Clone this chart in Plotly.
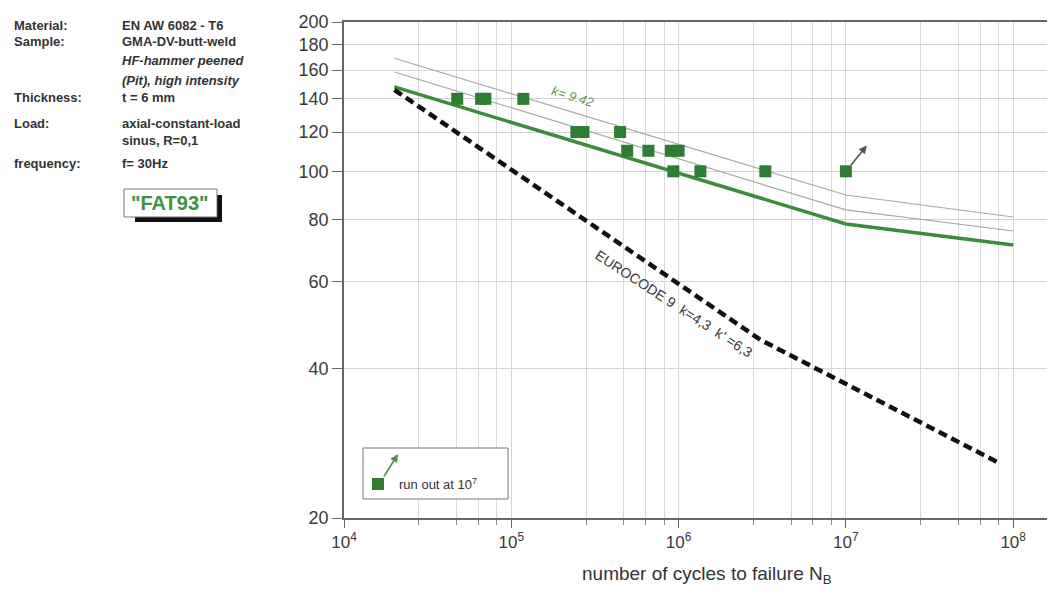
import numpy as np
import plotly.graph_objects as go

# ---------------- data ----------------
test_N = [4.75e4, 6.6e4, 7.0e4, 1.18e5, 2.45e5, 2.7e5, 4.47e5, 4.93e5, 6.6e5, 9.0e5, 1.0e6, 9.3e5, 1.35e6, 3.3e6]
test_S = [140, 140, 140, 140, 120, 120, 120, 110, 110, 110, 110, 100, 100, 100]
runout_N = [1.0e7]
runout_S = [100]

curve_N = [2.0e4, 1.0e7, 1.0e8]
fat_S = [148, 78.3, 71]          # thick green design curve (k = 9.42)
band_upper_S = [169, 89.6, 80.9]  # thin scatter band lines
band_mid_S = [158.6, 83.6, 75.8]

ec9_N = [2.0e4, 3.1e6, 8.1e7]
ec9_S = [146, 45.7, 25.9]

y_ticks = [20, 40, 60, 80, 100, 120, 140, 160, 180, 200]
x_ticks = [1e4, 1e5, 1e6, 1e7, 1e8]
x_ticklabels = ["10<sup>4</sup>", "10<sup>5</sup>", "10<sup>6</sup>", "10<sup>7</sup>", "10<sup>8</sup>"]
minor_mult = [2.8, 4.7, 6.35, 8.2]

info_labels = ["Material:", "Sample:", "", "", "Thickness:", "Load:", "", "frequency:"]
info_values = ["EN AW 6082 - T6", "GMA-DV-butt-weld", "<i>HF-hammer peened</i>",
               "<i>(Pit), high intensity</i>", "t = 6 mm", "axial-constant-load",
               "sinus, R=0,1", "f= 30Hz"]

# ---------------- layout geometry ----------------
OFF = 8  # page body margin of the browser
W_FIG, H_FIG = 1055 - OFF, 592 - OFF
L, R, T, B = 344 - OFF, 0, 22 - OFF, 74
PW = W_FIG - L - R
PH = H_FIG - T - B


def px(xp):
    return (xp - OFF - L) / PW


def py(yp):
    return (H_FIG - B - (yp - OFF)) / PH


GREEN = "#2f7d32"
LINE_GREEN = "#3c8c3c"
THIN = "#a3aba3"
TXT = "#333333"
FONT = "Liberation Sans, Arial, sans-serif"

fig = go.Figure()

fig.add_trace(go.Scatter(x=curve_N, y=band_upper_S, mode="lines",
                         line=dict(color=THIN, width=1.2), hoverinfo="skip"))
fig.add_trace(go.Scatter(x=curve_N, y=band_mid_S, mode="lines",
                         line=dict(color=THIN, width=1.2), hoverinfo="skip"))
fig.add_trace(go.Scatter(x=curve_N, y=fat_S, mode="lines",
                         line=dict(color=LINE_GREEN, width=3.5), hoverinfo="skip"))
fig.add_trace(go.Scatter(x=ec9_N, y=ec9_S, mode="lines",
                         line=dict(color="#111111", width=4.5, dash="9px,5px"), hoverinfo="skip"))
fig.add_trace(go.Scatter(x=test_N, y=test_S, mode="markers",
                         marker=dict(symbol="square", size=12, color=GREEN)))
fig.add_trace(go.Scatter(x=runout_N, y=runout_S, mode="markers",
                         marker=dict(symbol="square", size=12, color=GREEN)))

annotations = []
# run-out arrow from the run-out point
for n, s in zip(runout_N, runout_S):
    annotations.append(dict(x=np.log10(n) + 0.125, y=np.log10(s) + 0.052, xref="x", yref="y",
                            ax=np.log10(n), ay=np.log10(s), axref="x", ayref="y",
                            showarrow=True, arrowhead=2, arrowsize=1, arrowwidth=1.6,
                            arrowcolor="#4d5a4d", startstandoff=6, text=""))

# curve labels
annotations.append(dict(x=5.367, y=2.150, xref="x", yref="y", text="<i>k= 9.42</i>",
                        showarrow=False, textangle=17,
                        font=dict(family=FONT, size=13, color="#5f9a5f")))
annotations.append(dict(x=5.975, y=1.733, xref="x", yref="y",
                        text="EUROCODE 9  k=4,3  k' =6,3",
                        showarrow=False, textangle=33,
                        font=dict(family=FONT, size=14, color="#3a3a3a")))

# x-axis title
annotations.append(dict(x=px(707), y=py(575), xref="paper", yref="paper",
                        text="number of cycles to failure N<sub>B</sub>", showarrow=False,
                        xanchor="center", yanchor="middle",
                        font=dict(family=FONT, size=19, color=TXT)))

# info block on the left
rows_y = [26, 41, 61, 80, 98, 123, 141, 163]
for lab, val, yy in zip(info_labels, info_values, rows_y):
    if lab:
        annotations.append(dict(x=px(12), y=py(yy), xref="paper", yref="paper", text="<b>" + lab + "</b>",
                                showarrow=False, xanchor="left", yanchor="middle",
                                font=dict(family=FONT, size=13, color=TXT)))
    annotations.append(dict(x=px(120), y=py(yy), xref="paper", yref="paper", text="<b>" + val + "</b>",
                            showarrow=False, xanchor="left", yanchor="middle",
                            font=dict(family=FONT, size=13, color=TXT)))

# FAT93 label
annotations.append(dict(x=px(170), y=py(203), xref="paper", yref="paper", text="<b>\"FAT93\"</b>",
                        showarrow=False, xanchor="center", yanchor="middle",
                        font=dict(family=FONT, size=20, color="#3f933f")))

# legend box content
annotations.append(dict(x=px(398), y=py(454), xref="paper", yref="paper",
                        ax=-15, ay=24, showarrow=True, arrowhead=2, arrowsize=1,
                        arrowwidth=1.6, arrowcolor="#4f8f4f", text=""))
annotations.append(dict(x=px(397), y=py(484), xref="paper", yref="paper",
                        text="run out at 10<sup>7</sup>", showarrow=False,
                        xanchor="left", yanchor="middle",
                        font=dict(family=FONT, size=13, color=TXT)))

shapes = [
    # FAT93 shadow and box
    dict(type="rect", xref="paper", yref="paper", x0=px(135), x1=px(222), y0=py(222), y1=py(195),
         fillcolor="#111111", line=dict(width=0), layer="above"),
    dict(type="rect", xref="paper", yref="paper", x0=px(124), x1=px(217), y0=py(217), y1=py(189),
         fillcolor="white", line=dict(color="#777777", width=1), layer="above"),
    # legend box
    dict(type="rect", xref="paper", yref="paper", x0=px(363), x1=px(508), y0=py(499), y1=py(448),
         fillcolor="white", line=dict(color="#777777", width=1), layer="above"),
    dict(type="rect", xref="paper", yref="paper", x0=px(372), x1=px(384), y0=py(490), y1=py(478),
         fillcolor=GREEN, line=dict(width=0), layer="above"),
]

minor_vals = [m * 10 ** d for d in range(4, 9) for m in minor_mult]

fig.update_layout(
    width=W_FIG, height=H_FIG,
    margin=dict(l=L, r=R, t=T, b=B, autoexpand=False),
    paper_bgcolor="white", plot_bgcolor="white",
    showlegend=False,
    annotations=annotations,
    shapes=shapes,
    font=dict(family=FONT, color=TXT),
    xaxis=dict(type="log", range=[4, 8.25], tickmode="array", tickvals=x_ticks, ticktext=x_ticklabels,
               automargin=False,
               ticks="outside", ticklen=8, tickcolor="#666666", tickwidth=1.2,
               showgrid=True, gridcolor="#d4d4d4", gridwidth=1,
               showline=True, linecolor="#666666", linewidth=1.5, mirror=True,
               tickfont=dict(family=FONT, size=17, color="#3a3a3a"),
               minor=dict(tickmode="array", tickvals=minor_vals, ticks="outside", ticklen=5,
                          tickcolor="#888888", showgrid=True, gridcolor="#dadada", gridwidth=1),
               zeroline=False),
    yaxis=dict(type="log", range=[np.log10(20), np.log10(200)], tickmode="array", tickvals=y_ticks,
               ticktext=[str(v) for v in y_ticks], automargin=False,
               ticks="outside", ticklen=10, tickcolor="#666666", tickwidth=1.2,
               showgrid=True, gridcolor="#d4d4d4", gridwidth=1,
               showline=True, linecolor="#666666", linewidth=1.5,
               tickfont=dict(family=FONT, size=18, color="#3a3a3a"),
               zeroline=False),
)

fig.write_html("out.html")
